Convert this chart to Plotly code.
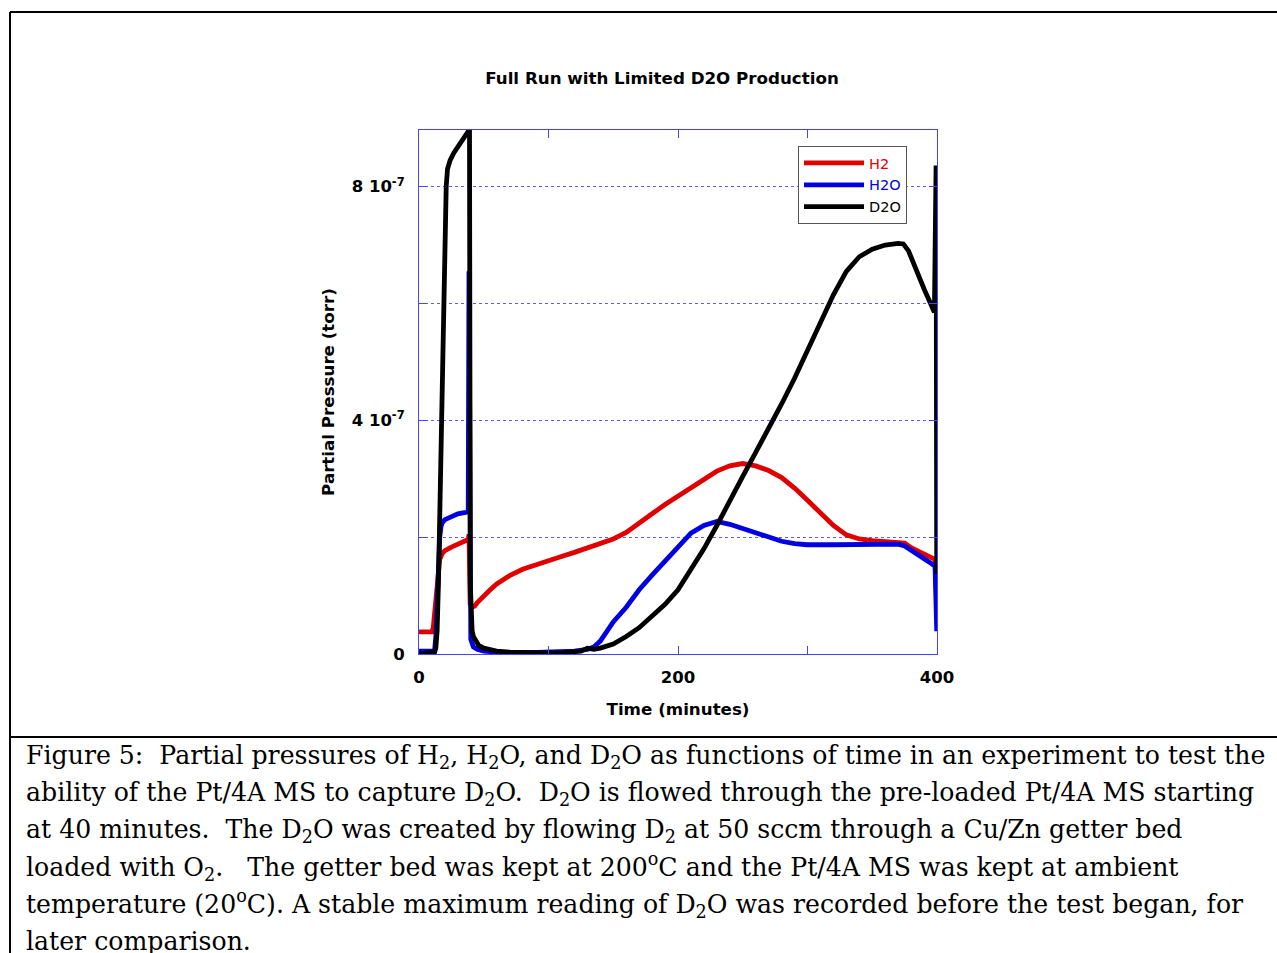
import plotly.graph_objects as go

# ---------------- data (values in units of 1e-7 torr) ----------------
UNIT = 1e-7

t_h2 = [0, 10, 11, 12, 13, 14, 15, 16, 18, 20, 25, 30, 35, 38, 38.6, 39.5, 41, 43, 45, 50, 55, 60, 65,
        70, 80, 90, 100, 110, 120, 130, 140, 150, 160, 170, 180, 190, 200, 210, 220, 230, 240,
        250, 260, 270, 280, 290, 300, 310, 320, 330, 340, 350, 360, 370, 375, 380, 390, 398.5, 399.8]
v_h2 = [0.38, 0.38, 0.45, 0.7, 1.0, 1.3, 1.5, 1.62, 1.72, 1.77, 1.83, 1.88, 1.93, 1.96, 2.05, 0.85, 0.8, 0.82, 0.88, 1.0, 1.1, 1.2, 1.28,
        1.34, 1.45, 1.53, 1.6, 1.67, 1.74, 1.81, 1.88, 1.97, 2.08, 2.25, 2.4, 2.56, 2.7, 2.84, 3.0, 3.13, 3.22,
        3.26, 3.22, 3.14, 3.02, 2.84, 2.63, 2.41, 2.2, 2.04, 1.97, 1.94, 1.93, 1.92, 1.9, 1.82, 1.72, 1.62, 0.85]

t_h2o = [0, 12, 13, 14, 15, 16, 17, 18, 20, 25, 30, 35, 38, 38.6, 39.3, 40, 42, 45, 50, 60, 80, 100,
         120, 130, 135, 140, 145, 150, 160, 170, 180, 190, 200, 210, 220, 230, 240, 250, 260, 270,
         280, 290, 300, 320, 340, 360, 370, 375, 380, 385, 390, 395, 398.5, 399.8]
v_h2o = [0.05, 0.05, 0.3, 0.9, 1.6, 2.0, 2.18, 2.25, 2.3, 2.36, 2.4, 2.42, 2.43, 6.55, 0.6, 0.25, 0.12, 0.08, 0.05, 0.03, 0.02, 0.03,
         0.05, 0.08, 0.12, 0.22, 0.38, 0.55, 0.8, 1.1, 1.35, 1.6, 1.85, 2.07, 2.2, 2.27, 2.22, 2.15, 2.08, 2.0,
         1.93, 1.89, 1.87, 1.87, 1.88, 1.88, 1.88, 1.85, 1.77, 1.7, 1.63, 1.56, 1.5, 0.39]

t_d2o = [0, 12, 13, 14, 15, 16, 17, 18, 19, 20, 21, 22, 24, 27, 30, 33, 36, 38, 39, 39.6, 40.2, 41, 42, 44, 46,
         50, 55, 60, 70, 80, 90, 100, 110, 120, 125, 130, 135, 140, 150, 160, 170, 180, 190, 200, 210,
         220, 230, 240, 250, 260, 270, 280, 290, 300, 310, 320, 330, 340, 350, 360, 370, 374, 378, 385,
         390, 395, 398, 399.3, 399.8]
v_d2o = [0.0, 0.03, 0.1, 0.4, 1.2, 2.3, 3.6, 5.0, 6.3, 7.3, 8.0, 8.3, 8.45, 8.58, 8.68, 8.77, 8.86, 8.93, 8.98, 1.2, 0.6, 0.4, 0.3, 0.2, 0.15,
         0.1, 0.07, 0.05, 0.03, 0.02, 0.02, 0.02, 0.02, 0.03, 0.05, 0.1, 0.08, 0.1, 0.17, 0.3, 0.45, 0.65, 0.85, 1.1, 1.45,
         1.8, 2.2, 2.6, 3.04, 3.45, 3.85, 4.28, 4.72, 5.2, 5.7, 6.15, 6.55, 6.8, 6.93, 7.0, 7.03, 7.02, 6.9, 6.5,
         6.25, 6.0, 5.85, 8.36, 1.37]

series_names = ["H2", "H2O", "D2O"]
series_colors = ["#e00000", "#0000e0", "#000000"]

x_tickvals = [0, 100, 200, 300, 400]
x_ticktext = ["0", "", "200", "", "400"]
y_tickvals = [0, 2, 4, 6, 8]
y_ticktext = ["0", "", "4 10<sup>-7</sup>", "", "8 10<sup>-7</sup>"]

title_text = "Full Run with Limited D2O Production"
x_title = "Time (minutes)"
y_title = "Partial Pressure (torr)"

caption_lines = [
    "Figure 5:\u00a0 Partial pressures of H<sub>2</sub>, H<sub>2</sub>O, and D<sub>2</sub>O as functions of time in an experiment to test the",
    "ability of the Pt/4A MS to capture D<sub>2</sub>O.\u00a0 D<sub>2</sub>O is flowed through the pre-loaded Pt/4A MS starting",
    "at 40 minutes.\u00a0 The D<sub>2</sub>O was created by flowing D<sub>2</sub> at 50 sccm through a Cu/Zn getter bed",
    "loaded with O<sub>2</sub>.\u00a0\u00a0 The getter bed was kept at 200<sup>o</sup>C and the Pt/4A MS was kept at ambient",
    "temperature (20<sup>o</sup>C). A stable maximum reading of D<sub>2</sub>O was recorded before the test began, for",
    "later comparison.",
]

# ---------------- layout geometry (pixels) ----------------
W, H = 1277, 953
PX0, PX1, PY0, PY1 = 419, 937, 130, 654


def px_x(p):
    return (p - PX0) / (PX1 - PX0)


def px_y(p):
    return (PY1 - p) / (PY1 - PY0)


AXIS_BLUE = "#4444ff"
GRID_BLUE = "#5a5aff"
SANS = "DejaVu Sans"

fig = go.Figure()
for name, color, tt, vv in [
    (series_names[0], series_colors[0], t_h2, v_h2),
    (series_names[1], series_colors[1], t_h2o, v_h2o),
    (series_names[2], series_colors[2], t_d2o, v_d2o),
]:
    fig.add_trace(go.Scatter(
        x=tt, y=[v * UNIT for v in vv], mode="lines",
        name=f'<span style="color:{color}">{name}</span>',
        line=dict(color=color, width=4.8),
    ))

fig.update_layout(
    width=W, height=H,
    margin=dict(l=PX0, r=W - PX1, t=PY0, b=H - PY1, pad=0),
    paper_bgcolor="white", plot_bgcolor="white",
    title=dict(text=title_text, x=662 / W, xanchor="center", y=1 - 78 / H, yanchor="middle",
               yref="container", font=dict(family=SANS, size=16.7, weight="bold", color="black")),
    showlegend=True,
    legend=dict(x=px_x(798), y=px_y(146), xanchor="left", yanchor="top",
                bgcolor="white", bordercolor="#555555", borderwidth=1,
                font=dict(family=SANS, size=14.5, color="black"),
                itemwidth=60, tracegroupgap=0),
)

fig.update_xaxes(
    range=[0, 400], showline=True, linecolor=AXIS_BLUE, linewidth=1, mirror="ticks",
    ticks="inside", ticklen=8, tickcolor=AXIS_BLUE, tickwidth=1,
    tickvals=x_tickvals, ticktext=x_ticktext, showgrid=False, zeroline=False,
    tickfont=dict(family=SANS, size=16.5, weight="bold", color="black"), ticklabelstandoff=8,
    title=dict(text=x_title, font=dict(family=SANS, size=16.7, weight="bold", color="black"), standoff=17),
)
fig.update_yaxes(
    range=[0, 8.97 * UNIT], showline=True, linecolor=AXIS_BLUE, linewidth=1, mirror="ticks",
    ticks="inside", ticklen=8, tickcolor=AXIS_BLUE, tickwidth=1,
    tickvals=[v * UNIT for v in y_tickvals], ticktext=y_ticktext,
    showgrid=True, gridcolor=GRID_BLUE, griddash="dot", gridwidth=1, zeroline=False,
    tickfont=dict(family=SANS, size=16.5, weight="bold", color="black"), ticklabelstandoff=10,
    title=dict(text=y_title, font=dict(family=SANS, size=16.7, weight="bold", color="black"), standoff=12),
)

# frame around figure + caption separator
frame = dict(color="black", width=2)
fig.add_shape(type="line", xref="paper", yref="paper", x0=px_x(10), x1=px_x(1290), y0=px_y(12), y1=px_y(12), line=frame)
fig.add_shape(type="line", xref="paper", yref="paper", x0=px_x(10), x1=px_x(10), y0=px_y(12), y1=px_y(990), line=frame)
fig.add_shape(type="line", xref="paper", yref="paper", x0=px_x(10), x1=px_x(1290), y0=px_y(737), y1=px_y(737), line=frame)

# caption
for i, line in enumerate(caption_lines):
    fig.add_annotation(
        text=line, xref="paper", yref="paper", x=px_x(24), y=px_y(757 + i * 36.8),
        xanchor="left", yanchor="middle", showarrow=False, align="left",
        font=dict(family="DejaVu Serif", size=25.2, color="black"),
    )

fig.write_html("out.html")
